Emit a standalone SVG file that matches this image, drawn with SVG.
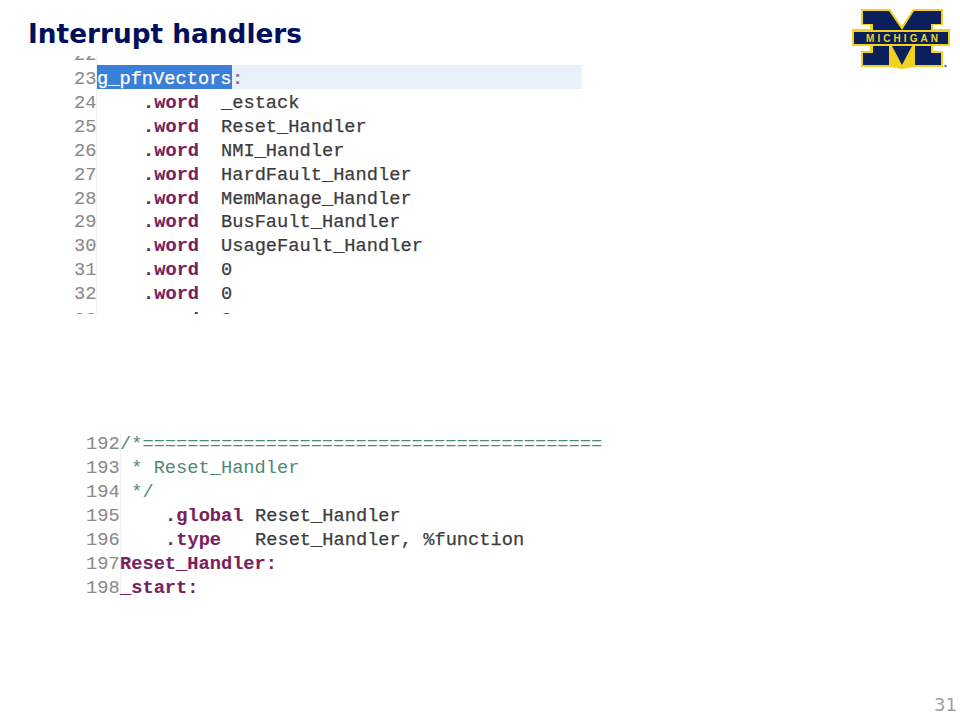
<svg xmlns="http://www.w3.org/2000/svg" width="960" height="720" viewBox="0 0 960 720">
<style>
text{white-space:pre}
.c{font-family:"Liberation Mono","Courier New",monospace;font-size:18.7px;fill:#3c3c3c;stroke:#3c3c3c;stroke-width:.25}
.n{fill:#8a8a8a;stroke:#8a8a8a;stroke-width:.1}
.k{fill:#7a1f5e;stroke:#7a1f5e;stroke-width:.15;font-weight:bold}
.g{fill:#4f8a74;stroke:none}
.navy{fill:#0a1f5c}
</style>
<defs><clipPath id="top"><rect x="60" y="56" width="530" height="258"/></clipPath></defs>
<rect width="960" height="720" fill="#fff"/>
<text x="28" y="43" font-family="'DejaVu Sans',sans-serif" font-weight="bold" font-size="27" fill="#00105c" textLength="274" lengthAdjust="spacingAndGlyphs">Interrupt handlers</text>
<g id="logo">
<polygon fill="#f3d21f" points="861,9 890,9 902,26 913,9 943,9 943,25 933,25 933,29 950,29 950,46 933,46 933,51 943,51 943,67 913,67 902,69 890,67 861,67 861,51 870,51 870,46 852,46 852,29 870,29 870,25 861,25"/>
<polygon class="navy" points="863,11 889,11 902,30 914,11 941,11 941,24 931,24 931,30 873,30 873,24 863,24"/>
<rect class="navy" x="854" y="32" width="94" height="12"/>
<polygon class="navy" points="873,46 889,46 889,65 863,65 863,53 873,53"/>
<polygon class="navy" points="892,46 912,46 902,65"/>
<polygon class="navy" points="915,46 931,46 931,53 941,53 941,65 915,65"/>
<text x="866" y="42" font-family="'Liberation Sans',sans-serif" font-weight="bold" font-size="10" textLength="72" fill="#f3d21f">MICHIGAN</text>
<circle cx="945.500" cy="66" r="1.300" fill="#777"/>
</g>
<g id="code-top" clip-path="url(#top)">
<rect x="97" y="65" width="485" height="24" fill="#e8f1fb"/>
<rect x="97" y="65" width="135" height="24" fill="#3a80d8"/>
<line x1="96.500" y1="56" x2="96.500" y2="314" stroke="#f0f0f0"/>
<text class="c n" x="74" y="60">22</text>
<text class="c n" x="74" y="84">23</text>
<text class="c" x="97" y="84" style="fill:#fff;stroke:#fff">g_pfnVectors</text>
<text class="c k" x="232" y="84" style="fill:#8a6f8a;stroke:#8a6f8a">:</text>
<text class="c n" x="74" y="108">24</text><text class="c k" x="143" y="108">.word</text><text class="c" x="221" y="108">_estack</text>
<text class="c n" x="74" y="132">25</text><text class="c k" x="143" y="132">.word</text><text class="c" x="221" y="132">Reset_Handler</text>
<text class="c n" x="74" y="156">26</text><text class="c k" x="143" y="156">.word</text><text class="c" x="221" y="156">NMI_Handler</text>
<text class="c n" x="74" y="180">27</text><text class="c k" x="143" y="180">.word</text><text class="c" x="221" y="180">HardFault_Handler</text>
<text class="c n" x="74" y="204">28</text><text class="c k" x="143" y="204">.word</text><text class="c" x="221" y="204">MemManage_Handler</text>
<text class="c n" x="74" y="227">29</text><text class="c k" x="143" y="227">.word</text><text class="c" x="221" y="227">BusFault_Handler</text>
<text class="c n" x="74" y="251">30</text><text class="c k" x="143" y="251">.word</text><text class="c" x="221" y="251">UsageFault_Handler</text>
<text class="c n" x="74" y="275">31</text><text class="c k" x="143" y="275">.word</text><text class="c" x="221" y="275">0</text>
<text class="c n" x="74" y="299">32</text><text class="c k" x="143" y="299">.word</text><text class="c" x="221" y="299">0</text>
<text class="c n" x="74" y="325">33</text><text class="c k" x="143" y="325">.word</text><text class="c" x="221" y="325">0</text>
</g>
<g id="code-bottom">
<line x1="120.500" y1="434" x2="120.500" y2="600" stroke="#f0f0f0"/>
<text class="c n" x="86" y="449">192</text><text class="c g" x="120" y="449">/*=========================================</text>
<text class="c n" x="86" y="473">193</text><text class="c g" x="120" y="473"> * Reset_Handler</text>
<text class="c n" x="86" y="497">194</text><text class="c g" x="120" y="497"> */</text>
<text class="c n" x="86" y="521">195</text><text class="c k" x="165" y="521">.global</text><text class="c" x="255" y="521">Reset_Handler</text>
<text class="c n" x="86" y="545">196</text><text class="c k" x="165" y="545">.type</text><text class="c" x="255" y="545">Reset_Handler, %function</text>
<text class="c n" x="86" y="569">197</text><text class="c k" x="120" y="569">Reset_Handler:</text>
<text class="c n" x="86" y="593">198</text><text class="c k" x="120" y="593">_start:</text>
</g>
<text x="934" y="711" font-family="'DejaVu Sans',sans-serif" font-size="18" fill="#a0a0a0" textLength="23">31</text>
</svg>
